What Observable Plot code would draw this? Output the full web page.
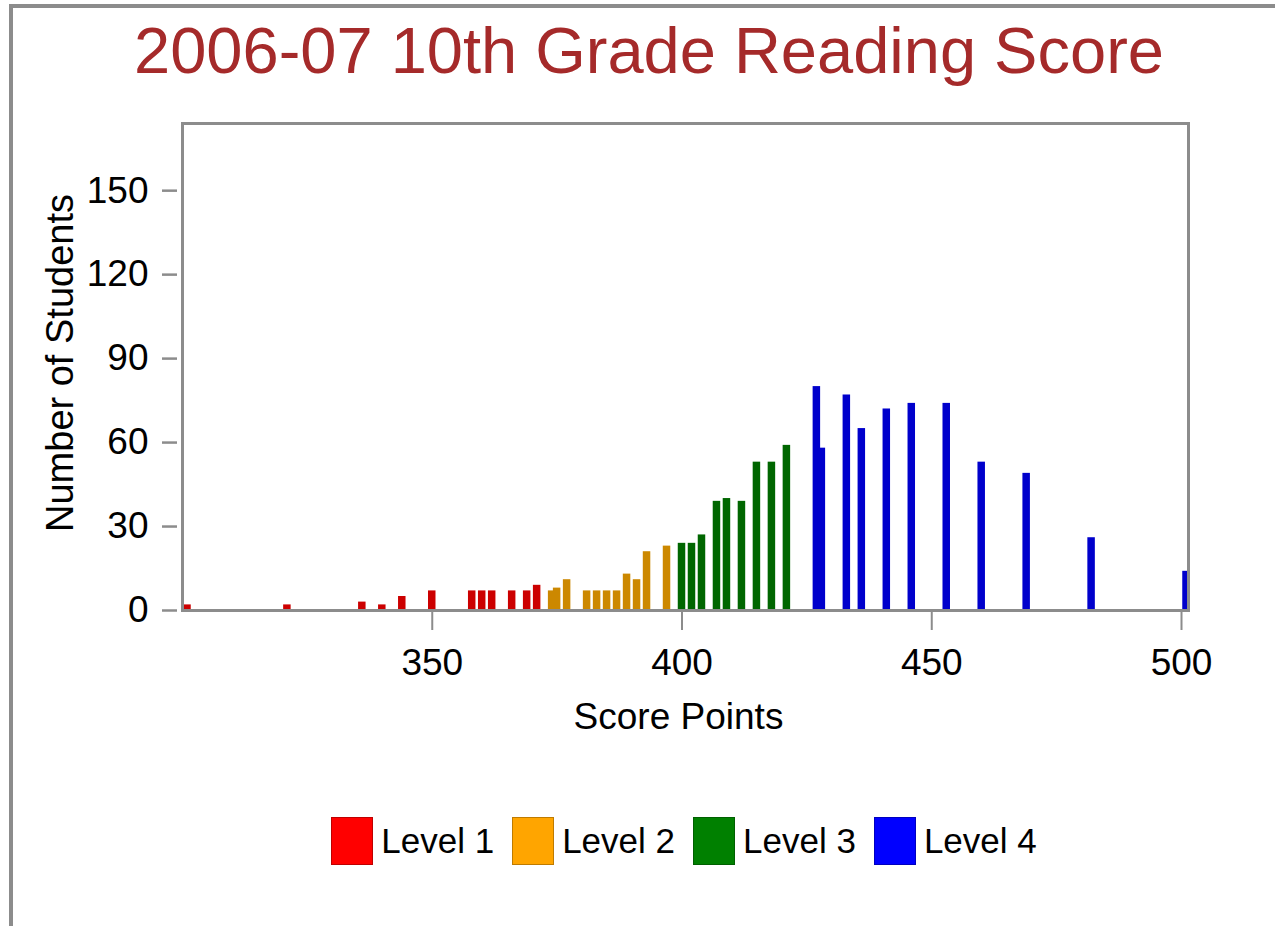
<!DOCTYPE html>
<html>
<head>
<meta charset="utf-8">
<script src="https://cdn.jsdelivr.net/npm/d3@7"></script>
<script src="https://cdn.jsdelivr.net/npm/@observablehq/plot@0.6"></script>
<style>
  html, body { margin: 0; padding: 0; background: #fff; }
  body { width: 1275px; height: 926px; position: relative; overflow: hidden; font-family: "Liberation Sans", Arial, sans-serif; }
  #border { position: absolute; left: 9px; top: 4px; width: 1400px; height: 1000px; border-top: 4px solid #8c8c8c; border-left: 4px solid #8c8c8c; }
  #title { position: absolute; left: 0; top: 18px; width: 1298px; text-align: center; font-size: 65px; line-height: 1; color: #a52a2a; white-space: nowrap; }
  #chart { position: absolute; left: 0; top: 100px; }
  #legend { position: absolute; left: 0; top: 817px; width: 1368px; display: flex; justify-content: center; align-items: center; }
  .item { display: flex; align-items: center; margin: 0 9px; }
  .swatch { width: 42px; height: 48px; box-sizing: border-box; border: 1px solid rgba(0,0,0,0.25); }
  .label { margin-left: 8px; font-size: 35px; line-height: 48px; color: #000; }
</style>
</head>
<body>
<div id="border"></div>
<div id="title">2006-07 10th Grade Reading Score</div>
<div id="chart"></div>
<div id="legend"></div>
<script>
// ---- data ----
const levelNames = ["Level 1", "Level 2", "Level 3", "Level 4"];
const barColors = ["#cc0000", "#cc8800", "#006600", "#0000cc"];
const legendColors = ["#ff0000", "#ffa500", "#008000", "#0000ff"];

const level1Scores = [301, 321, 336, 340, 344, 350, 358, 360, 362, 366, 369, 371];
const level1Counts = [2, 2, 3, 2, 5, 7, 7, 7, 7, 7, 7, 9];

const level2Scores = [374, 375, 377, 381, 383, 385, 387, 389, 391, 393, 397];
const level2Counts = [7, 8, 11, 7, 7, 7, 7, 13, 11, 21, 23];

const level3Scores = [400, 402, 404, 407, 409, 412, 415, 418, 421];
const level3Counts = [24, 24, 27, 39, 40, 39, 53, 53, 59];

const level4Scores = [427, 428, 433, 436, 441, 446, 453, 460, 469, 482, 501];
const level4Counts = [80, 58, 77, 65, 72, 74, 74, 53, 49, 26, 14];

const xTicks = [350, 400, 450, 500];
const yTicks = [0, 30, 60, 90, 120, 150];
const xDomain = [300, 501.4];
const yDomain = [0, 174];
const xLabel = "Score Points";
const yLabel = "Number of Students";

// ---- build table ----
const groups = [
  [level1Scores, level1Counts],
  [level2Scores, level2Counts],
  [level3Scores, level3Counts],
  [level4Scores, level4Counts]
];
const data = groups.flatMap(([s, c], gi) => s.map((score, i) => ({score, count: c[i], level: levelNames[gi]})));

const halfWidth = 0.75;

const chart = Plot.plot({
  width: 1275,
  height: 660,
  marginLeft: 182,
  marginRight: 87,
  marginTop: 23,
  marginBottom: 150,
  style: {fontFamily: "'Liberation Sans', Arial, sans-serif", fontSize: "37px", color: "#000", background: "transparent"},
  x: {domain: xDomain},
  y: {domain: yDomain},
  color: {domain: levelNames, range: barColors},
  marks: [
    Plot.rectY(data, {x1: d => d.score - halfWidth, x2: d => d.score + halfWidth, y1: 0, y2: "count", fill: "level", clip: true}),
    Plot.frame({stroke: "#8c8c8c", strokeWidth: 3}),
    Plot.axisY({ticks: yTicks, tickSize: 15, dx: -5, tickPadding: 14, stroke: "#8c8c8c", strokeWidth: 2.5, fontSize: 37, fill: "#000", label: null}),
    Plot.axisX({ticks: xTicks, tickSize: 18, dy: 2, tickPadding: 18, stroke: "#8c8c8c", strokeWidth: 2, fontSize: 37, fill: "#000", label: null}),
    Plot.text([yLabel], {frameAnchor: "left", textAnchor: "middle", rotate: -90, dx: -110, dy: -4, lineAnchor: "bottom", fontSize: 38, fill: "#000"}),
    Plot.text([xLabel], {frameAnchor: "bottom", textAnchor: "middle", dx: -7, dy: 118, lineAnchor: "bottom", fontSize: 37, fill: "#000"})
  ]
});
document.getElementById("chart").appendChild(chart);

// ---- legend ----
const legend = document.getElementById("legend");
levelNames.forEach((name, i) => {
  const item = document.createElement("div");
  item.className = "item";
  const sw = document.createElement("div");
  sw.className = "swatch";
  sw.style.background = legendColors[i];
  const lb = document.createElement("span");
  lb.className = "label";
  lb.textContent = name;
  item.appendChild(sw);
  item.appendChild(lb);
  legend.appendChild(item);
});
</script>
</body>
</html>
